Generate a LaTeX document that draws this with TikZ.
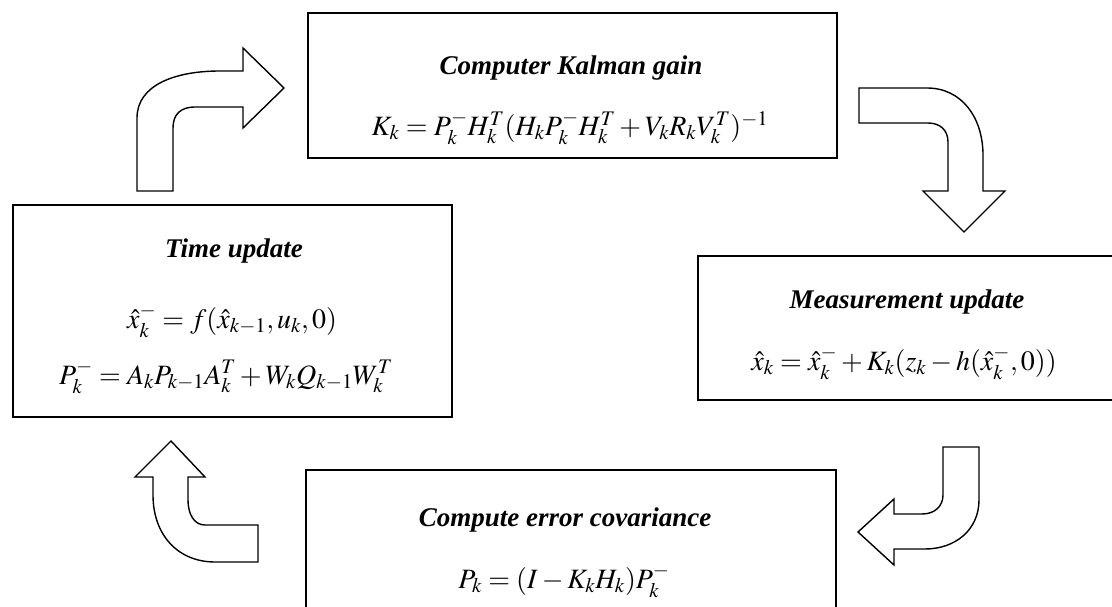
\documentclass[tikz,border=0pt]{standalone}
\usepackage{mathptmx}
\usepackage{fontspec}
\setmainfont{Liberation Serif}
\begin{document}
\begin{tikzpicture}[x=1pt,y=-1pt,
  box/.style={draw, line width=1.8pt, inner sep=0pt},
  title/.style={font=\fontsize{27}{32}\selectfont\bfseries\itshape, inner sep=0pt},
  eq/.style={font=\fontsize{28}{34}\selectfont, inner sep=0pt},
  barrow/.style={draw, line width=1.4pt, fill=white, line join=miter}]
\useasboundingbox (0,0) rectangle (1112,607);
\clip (0,0) rectangle (1112,607);
% boxes
\node[box, minimum width=529pt, minimum height=145pt] (gainbox) at (572.5,85.5) {};
\node[box, minimum width=439pt, minimum height=212pt] (timebox) at (232.5,311) {};
\node[box, minimum width=422pt, minimum height=144pt] (measbox) at (909,328) {};
\node[box, minimum width=530pt, minimum height=160pt] (covbox) at (571,550) {};
% texts
\node[title] (gaint) at (571,68) {Computer Kalman gain};
\node[eq] (gaine) at (570,128) {$K_k = P_k^- H_k^T (H_k P_k^- H_k^T + V_k R_k V_k^T)^{-1}$};
\node[title] (timet) at (234,251) {Time update};
\node[eq] (timee1) at (232,321) {$\hat{x}_k^- = f(\hat{x}_{k-1}, u_k, 0)$};
\node[eq] (timee2) at (226,377) {$P_k^- = A_k P_{k-1} A_k^T + W_k Q_{k-1} W_k^T$};
\node[title] (meast) at (907,302) {Measurement update};
\node[eq] (measе) at (904,363) {$\hat{x}_k = \hat{x}_k^- + K_k (z_k - h(\hat{x}_k^-, 0))$};
\node[title] (covt) at (565,520) {Compute error covariance};
\node[eq] (cove) at (564,581) {$P_k = (I - K_k H_k) P_k^-$};
% block arrows
\draw[barrow] (137,191) -- (137,118) .. controls (137,85) and (175,71) .. (220,71)
  -- (243,71) -- (243,48) -- (284,88) -- (243,128) -- (243,107) -- (195,107)
  .. controls (180,107) and (173,115) .. (173,128) -- (173,191) -- cycle;
\draw[barrow] (859,88) -- (927,88) .. controls (962,88) and (983,118) .. (983,155)
  -- (983,191) -- (1005,191) -- (964,232) -- (923,191) -- (948,191) -- (948,142)
  .. controls (948,130) and (940,123) .. (928,123) -- (859,123) -- cycle;
\draw[barrow] (943,447) -- (979,447) -- (979,500) .. controls (979,530) and (955,549) .. (925,549)
  -- (894,549) -- (894,565) -- (858,532) -- (894,499) -- (894,514) -- (922,514)
  .. controls (935,514) and (943,506) .. (943,495) -- cycle;
\draw[barrow] (258,562) -- (215,562) .. controls (178,562) and (153,535) .. (153,495)
  -- (153,477) -- (135,477) -- (171,441) -- (205,477) -- (188,477) -- (188,500)
  .. controls (188,514) and (194,525) .. (205,525) -- (258,525) -- cycle;
\end{tikzpicture}
\end{document}
